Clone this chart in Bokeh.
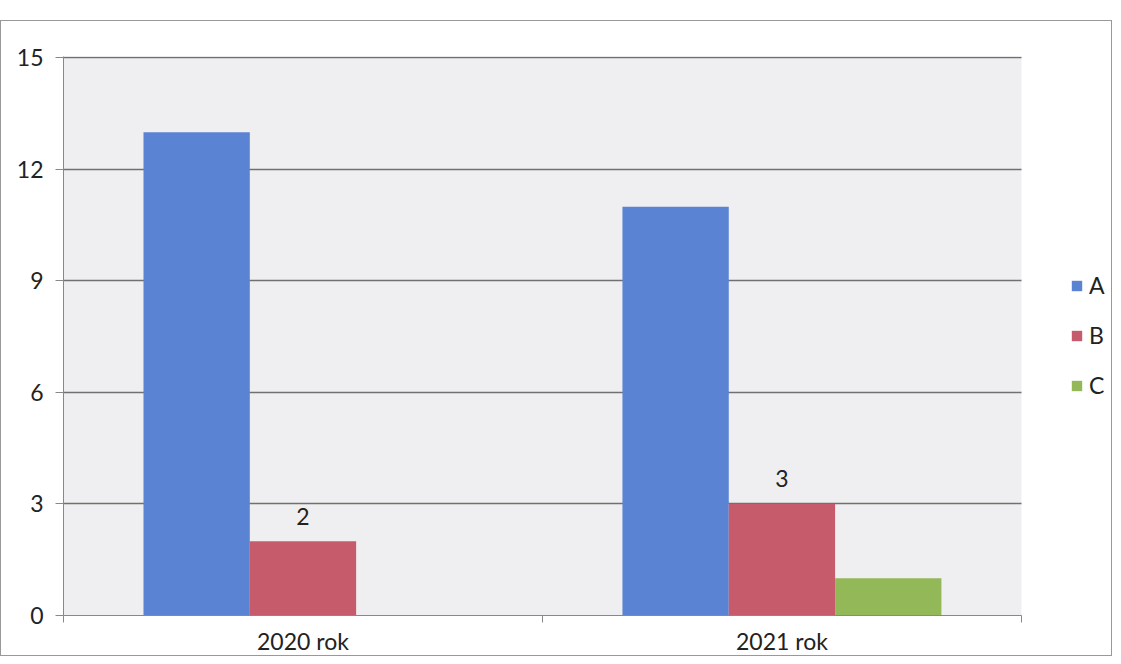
from bokeh.plotting import figure
from bokeh.models import (ColumnDataSource, Range1d, Legend, LegendItem, LabelSet,
                          FixedTicker, BoxAnnotation)
from bokeh.core.properties import value
from bokeh.transform import dodge
from bokeh.embed import file_html
from bokeh.resources import INLINE

cats = ["2020 rok", "2021 rok"]
series_a = [13, 11]
series_b = [2, 3]
series_c = [0, 1]
b_labels = ["2", "3"]
y_ticks = [0, 3, 6, 9, 12, 15]

FONT = "Lato"
COL_A = "#5a83d3"
COL_B = "#c65b6c"
COL_C = "#93b857"

n = len(cats)
x_pos = [i + 0.5 for i in range(n)]
src = ColumnDataSource(dict(x=x_pos, a=series_a, b=series_b, c=series_c, lb=b_labels))

# plot area spans the categories; extra room on the right holds the legend
x_end = n * 1049 / 957
p = figure(x_range=Range1d(0, x_end), y_range=Range1d(0, 15.04),
           width=1112, height=636, output_backend="svg", toolbar_location=None,
           min_border_left=62, min_border_top=35, min_border_right=0, min_border_bottom=41)
p.margin = (20, 0, 0, 0)
p.styles = {"border": "1px solid #999999"}

p.background_fill_color = "white"
p.border_fill_color = "white"
p.outline_line_color = None
p.add_layout(BoxAnnotation(left=0, right=n, fill_color="#efeff1", fill_alpha=1,
                           line_color=None, level="image"))

w = 0.222
ra = p.vbar(x=dodge("x", -w), top="a", width=w, source=src, fill_color=COL_A, line_color=None)
rb = p.vbar(x=dodge("x", 0), top="b", width=w, source=src, fill_color=COL_B, line_color=None)
rc = p.vbar(x=dodge("x", w), top="c", width=w, source=src, fill_color=COL_C, line_color=None)

labels = LabelSet(x="x", y="b", text="lb", source=src,
                  y_offset=25, text_align="center", text_baseline="middle",
                  text_font=value(FONT), text_font_size=value("23px"), text_color="#222222")
p.add_layout(labels)

p.yaxis.ticker = FixedTicker(ticks=y_ticks)
p.yaxis.major_label_text_font = FONT
p.yaxis.major_label_text_font_size = "23px"
p.yaxis.major_label_text_color = "#222222"
p.yaxis.axis_line_color = "#888888"
p.yaxis.major_tick_line_color = "#888888"
p.yaxis.major_tick_out = 8
p.yaxis.major_tick_in = 0
p.yaxis.minor_tick_line_color = None
p.yaxis.major_label_standoff = 12

p.xaxis.ticker = FixedTicker(ticks=x_pos, minor_ticks=list(range(n + 1)))
p.xaxis.major_label_overrides = {xp: c for xp, c in zip(x_pos, cats)}
p.xaxis.bounds = (0, n)
p.xaxis.major_label_text_font = FONT
p.xaxis.major_label_text_font_size = "23px"
p.xaxis.major_label_text_color = "#222222"
p.xaxis.axis_line_color = "#888888"
p.xaxis.major_tick_line_color = None
p.xaxis.minor_tick_line_color = "#888888"
p.xaxis.minor_tick_out = 7
p.xaxis.minor_tick_in = 0
p.xaxis.major_label_standoff = 4

p.xgrid.grid_line_color = None
p.ygrid.grid_line_color = "#707070"
p.ygrid.grid_line_width = 1.4
p.ygrid.cross_bounds = (0, n)

legend = Legend(items=[LegendItem(label="A", renderers=[ra]),
                       LegendItem(label="B", renderers=[rb]),
                       LegendItem(label="C", renderers=[rc])],
                location=(1007, 216), margin=0, padding=0, spacing=22,
                glyph_width=13, glyph_height=13, label_height=20, label_standoff=6,
                label_text_font=FONT, label_text_font_size="23px", label_text_color="#222222",
                border_line_color=None, background_fill_alpha=0)
p.add_layout(legend)

open("out.html", "w").write(file_html(p, INLINE))
